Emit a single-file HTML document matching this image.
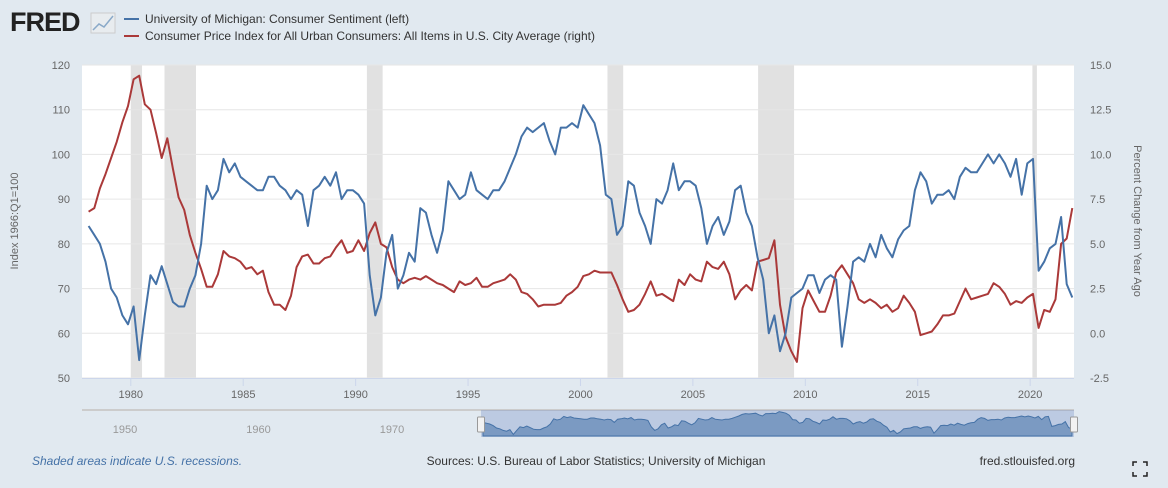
<!DOCTYPE html>
<html><head><meta charset="utf-8">
<style>
body{margin:0;background:#e1e9f0;font-family:"Liberation Sans",sans-serif;}
#wrap{position:relative;width:1168px;height:488px;background:#e1e9f0;overflow:hidden}
svg text{font-family:"Liberation Sans",sans-serif}
</style></head><body>
<div id="wrap">
<svg id="chart" width="1168" height="488"></svg>
</div>
<script>
const years=[];for(let y=1978;y<=2021;y++)years.push(y);
const sentiment=[84,82,80,76,70,68,64,62,66,54,64,73,71,75,71,67,66,66,70,73,80,93,90,92,99,96,98,95,94,93,92,92,95,95,93,92,90,92,91,84,92,93,95,93,96,90,92,92,91,89,73,64,68,78,82,70,73,78,76,88,87,82,78,83,94,92,90,91,96,92,91,90,92,92,94,97,100,104,106,105,106,107,103,100,106,106,107,106,111,109,107,102,91,90,82,84,94,93,87,84,80,90,89,92,98,92,94,94,93,88,80,84,86,82,85,92,93,87,84,77,72,60,64,56,60,68,69,70,73,73,69,72,73,72,57,66,76,77,76,80,77,82,79,77,81,83,84,92,96,94,89,91,91,92,90,95,97,96,96,98,100,98,100,98,95,99,91,98,99,74,76,79,80,86,71,68];
const cpi=[6.8,7.0,8.1,8.9,9.8,10.7,11.8,12.7,14.2,14.4,12.8,12.5,11.2,9.8,10.9,9.2,7.6,6.9,5.5,4.5,3.6,2.6,2.6,3.3,4.6,4.3,4.2,4.0,3.6,3.7,3.3,3.5,2.3,1.6,1.6,1.3,2.1,3.7,4.3,4.4,3.9,3.9,4.2,4.3,4.8,5.2,4.5,4.6,5.2,4.6,5.6,6.2,5.0,4.8,3.7,3.0,2.8,3.0,3.1,3.0,3.2,3.0,2.8,2.7,2.5,2.3,2.9,2.7,2.8,3.1,2.6,2.6,2.8,2.9,3.0,3.3,3.0,2.3,2.2,1.9,1.5,1.6,1.6,1.6,1.7,2.1,2.3,2.6,3.2,3.3,3.5,3.4,3.4,3.4,2.7,1.9,1.2,1.3,1.6,2.2,2.9,2.1,2.2,2.0,1.8,3.0,2.7,3.3,3.0,2.9,4.0,3.7,3.6,4.0,3.3,1.9,2.4,2.7,2.4,4.0,4.1,4.2,5.2,1.6,-0.2,-1.0,-1.6,1.4,2.4,1.8,1.2,1.2,2.1,3.4,3.8,3.3,2.8,1.9,1.7,1.9,1.7,1.4,1.6,1.2,1.4,2.1,1.7,1.2,-0.1,0.0,0.1,0.5,1.0,1.0,1.1,1.8,2.5,1.9,2.0,2.1,2.2,2.8,2.6,2.2,1.6,1.8,1.7,2.0,2.2,0.3,1.3,1.2,1.9,5.0,5.3,7.0];
const recessions=[[1980.0,1980.5],[1981.5,1982.9],[1990.5,1991.2],[2001.2,2001.9],[2007.9,2009.5],[2020.1,2020.3]];
const leftTicks=[50,60,70,80,90,100,110,120];
const rightTicks=["-2.5","0.0","2.5","5.0","7.5","10.0","12.5","15.0"];
const xTicks=[1980,1985,1990,1995,2000,2005,2010,2015,2020];
const navTicks=[1950,1960,1970];

const NS="http://www.w3.org/2000/svg";
const svg=document.getElementById('chart');
function mk(t,a,p){const e=document.createElementNS(NS,t);for(const k in a)e.setAttribute(k,a[k]);(p||svg).appendChild(e);return e;}
const X0=82,X1=1074,Y0=65,Y1=378,D0=1977.83,D1=2021.95;
const xs=d=>X0+(d-D0)/(D1-D0)*(X1-X0);
const yl=v=>Y1-(v-50)/70*(Y1-Y0);
const yr=v=>Y1-(v+2.5)/17.5*(Y1-Y0);
const dateOf=i=>years[0]+i*0.25+0.125;

let e=mk('rect',{x:X0,y:Y0,width:X1-X0,height:Y1-Y0,fill:'#fff'});

recessions.forEach(r=>{const b=mk('rect',{x:xs(r[0]),y:Y0,width:xs(r[1])-xs(r[0]),height:Y1-Y0,fill:'#e1e1e1'});
});
leftTicks.forEach((v,i)=>{
 const g=mk('line',{x1:X0,x2:X1,y1:yl(v),y2:yl(v),stroke:'#e6e6e6','stroke-width':1});
 
 const t=mk('text',{x:70,y:yl(v)+4,'text-anchor':'end','font-size':11,fill:'#666'});t.textContent=v;
 
 const t2=mk('text',{x:1090,y:yl(v)+4,'text-anchor':'start','font-size':11,fill:'#666'});t2.textContent=rightTicks[i];
 
});
e=mk('line',{x1:X0,x2:X1,y1:Y1+0.5,y2:Y1+0.5,stroke:'#ccd6eb','stroke-width':1});

xTicks.forEach(v=>{
 const l=mk('line',{x1:xs(v),x2:xs(v),y1:Y1,y2:Y1+8,stroke:'#ccd6eb'});
 
 const t=mk('text',{x:xs(v),y:398,'text-anchor':'middle','font-size':11,fill:'#666'});t.textContent=v;
 
});
function linePath(arr,fy){return arr.map((v,i)=>(i?'L':'M')+xs(dateOf(i)).toFixed(1)+','+fy(v).toFixed(1)).join('');}
e=mk('path',{d:linePath(cpi,yr),fill:'none',stroke:'#aa3939','stroke-width':2,'stroke-linejoin':'round'});

e=mk('path',{d:linePath(sentiment,yl),fill:'none',stroke:'#4572a7','stroke-width':2,'stroke-linejoin':'round'});


e=mk('text',{x:18,y:221,'text-anchor':'middle','font-size':11,fill:'#666',transform:'rotate(-90 18 221)'});e.textContent='Index 1966:Q1=100';

e=mk('text',{x:1134,y:221,'text-anchor':'middle','font-size':11,fill:'#666',transform:'rotate(90 1134 221)'});e.textContent='Percent Change from Year Ago';


// header
e=mk('text',{x:10,y:31,'font-size':27,'font-weight':'bold',fill:'#222','letter-spacing':'-1'});e.textContent='FRED';

e=mk('rect',{x:91,y:13,width:24,height:20,fill:'#e8ecef',stroke:'#ccc'});

e=mk('polyline',{points:'93,30 99,24 104,27 113,16',fill:'none',stroke:'#8aa9c8','stroke-width':1.5});

[['#4572a7','University of Michigan: Consumer Sentiment (left)',23],['#aa3939','Consumer Price Index for All Urban Consumers: All Items in U.S. City Average (right)',40]].forEach(l=>{
 const ln=mk('line',{x1:124,x2:139,y1:l[2]-4,y2:l[2]-4,stroke:l[0],'stroke-width':2});
 
 const t=mk('text',{x:145,y:l[2],'font-size':12,fill:'#333'});t.textContent=l[1];
 
});

// navigator
e=mk('line',{x1:X0,x2:X1,y1:410,y2:410,stroke:'#ccc','stroke-width':2});

navTicks.forEach((v,i)=>{const t=mk('text',{x:125+i*133.5,y:433,'text-anchor':'middle','font-size':11,fill:'#999'});t.textContent=v;
 });
e=mk('rect',{x:481,y:410,width:593,height:27,fill:'rgba(102,133,194,0.3)'});

const nx=i=>483+i/(sentiment.length-1)*589, ny=v=>436-(v-50)/65*26;
let nd='M483,436'+sentiment.map((v,i)=>'L'+nx(i).toFixed(1)+','+ny(v).toFixed(1)).join('')+'L1072,436Z';
e=mk('path',{d:nd,fill:'rgba(69,114,167,0.55)',stroke:'#4572a7','stroke-width':1});

[481,1074].forEach(x=>{const h=mk('rect',{x:x-3.5,y:417,width:7,height:15,fill:'#f2f2f2',stroke:'#999',rx:1});
 });

// footer
e=mk('text',{x:32,y:465,'font-size':12,fill:'#4572a7','font-style':'italic'});e.textContent='Shaded areas indicate U.S. recessions.';

e=mk('text',{x:596,y:465,'text-anchor':'middle','font-size':12,fill:'#333'});e.textContent='Sources: U.S. Bureau of Labor Statistics; University of Michigan';

e=mk('text',{x:1075,y:465,'text-anchor':'end','font-size':12,fill:'#333'});e.textContent='fred.stlouisfed.org';

e=mk('path',{d:'M1133,466v-4h4M1143,462h4v4M1147,472v4h-4M1137,476h-4v-4',fill:'none',stroke:'#222','stroke-width':1.5});

</script>
</body></html>
